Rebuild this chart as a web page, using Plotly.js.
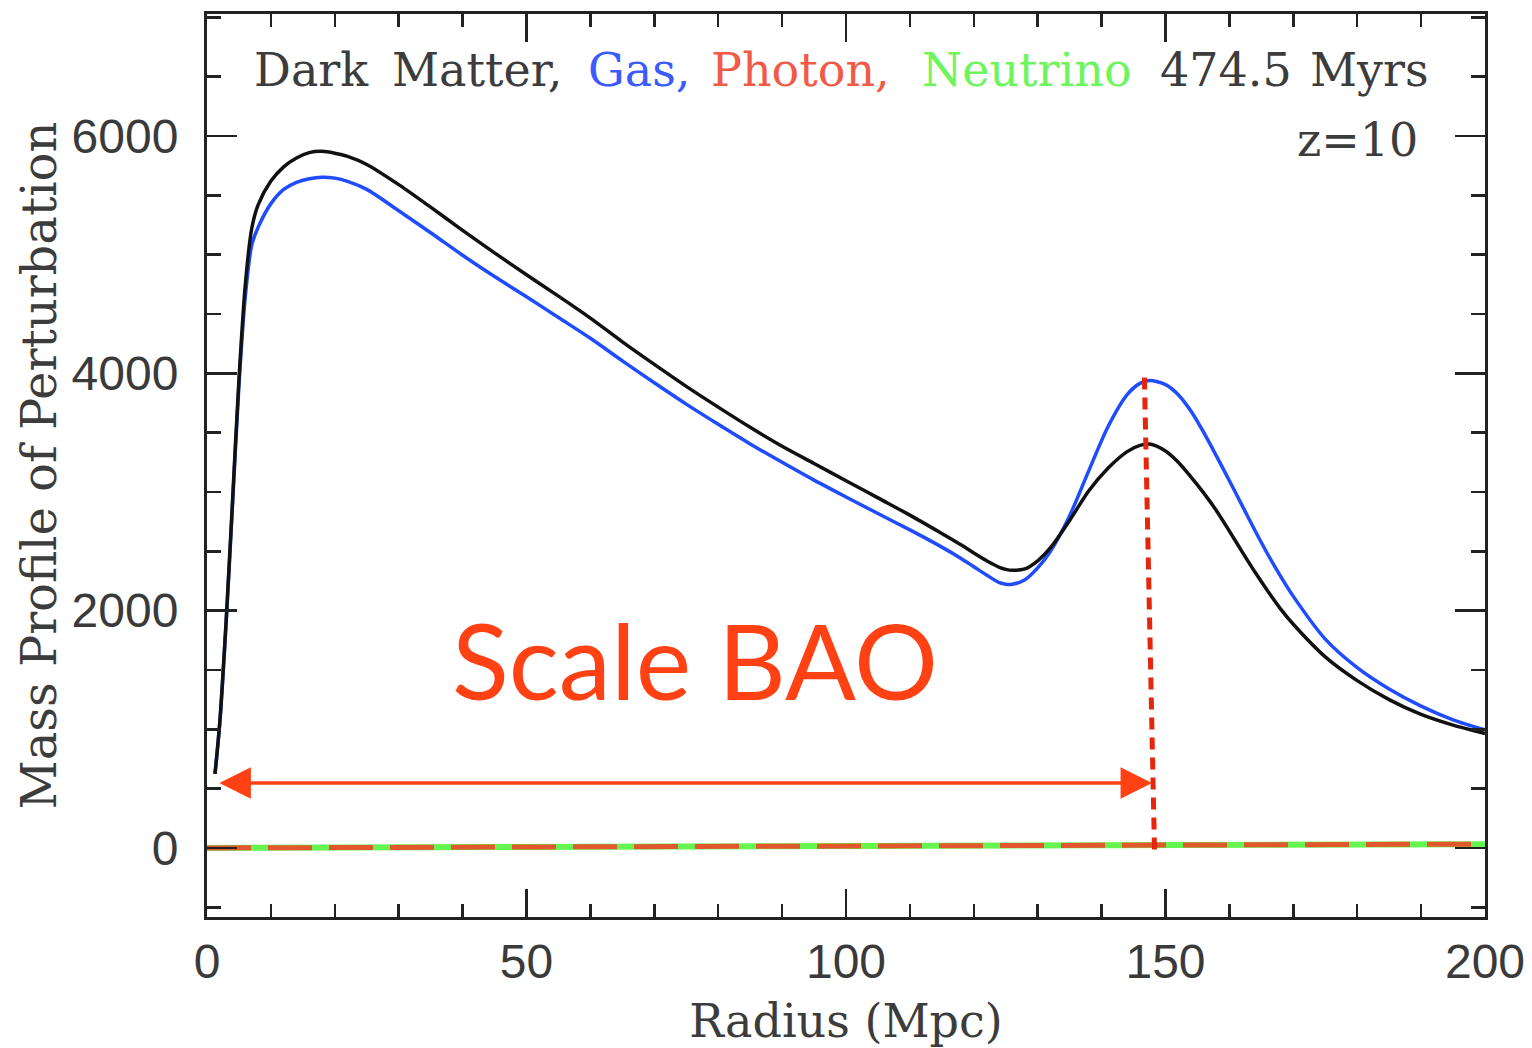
<!DOCTYPE html>
<html>
<head>
<meta charset="utf-8">
<script src="https://cdn.plot.ly/plotly-3.0.1.min.js"></script>
<style>html,body{margin:0;padding:0;background:#fff;}#chart{width:1532px;height:1048px;}</style>
</head>
<body>
<div id="chart"></div>
<script>
// Radius (Mpc) sample points
const radius = [1.25, 2, 3, 4, 5, 6, 7, 8, 10, 12, 14, 16, 18, 20, 22, 25, 30, 35, 40, 45, 50, 55, 60, 65, 70, 75, 80, 85, 90, 95, 100, 105, 110, 115, 118, 120, 122, 124, 125, 126, 128, 130, 132, 135, 138, 141, 144, 146, 147.5, 150, 152, 154, 156, 158, 160, 162, 164, 166, 168, 170, 175, 180, 185, 190, 195, 200];
// Dark matter mass profile
const darkMatter = [624, 1060, 1920, 2930, 3950, 4750, 5220, 5420, 5620, 5740, 5815, 5860, 5871, 5855, 5828, 5760, 5590, 5400, 5205, 5015, 4830, 4650, 4465, 4265, 4075, 3890, 3715, 3545, 3385, 3240, 3095, 2950, 2805, 2650, 2555, 2485, 2420, 2365, 2348, 2340, 2352, 2420, 2530, 2760, 3010, 3200, 3340, 3392, 3404, 3345, 3250, 3125, 2990, 2840, 2670, 2495, 2325, 2165, 2015, 1885, 1610, 1410, 1250, 1125, 1035, 965];
// Gas mass profile
const gas = [624, 1050, 1900, 2900, 3900, 4650, 5080, 5230, 5430, 5550, 5610, 5640, 5653, 5645, 5618, 5550, 5370, 5185, 4995, 4815, 4645, 4470, 4295, 4105, 3920, 3740, 3570, 3405, 3250, 3100, 2958, 2818, 2680, 2535, 2440, 2370, 2300, 2235, 2222, 2222, 2260, 2360, 2500, 2800, 3180, 3550, 3820, 3915, 3940, 3905, 3820, 3680, 3500, 3300, 3095, 2885, 2675, 2475, 2290, 2120, 1760, 1520, 1340, 1195, 1080, 995];
// Photon and neutrino profiles (near zero)
const radiusLow = [0, 25, 50, 75, 100, 125, 150, 175, 200];
const photon = [0, 3, 7, 10, 14, 18, 22, 27, 32];
const neutrino = [0, 3, 7, 10, 14, 18, 22, 27, 32];
// BAO scale marker
const baoLineX = [146.7, 148.3];
const baoLineY = [3964, -67];
const baoArrowX = [1.7, 147.9];
const baoArrowY = 548;

const red = '#ff4113';
const traces = [
  {x: radiusLow, y: neutrino, mode: 'lines', line: {color: '#66f550', width: 6}, hoverinfo: 'skip'},
  {x: radiusLow, y: photon, mode: 'lines', line: {color: '#e3572c', width: 5, dash: '44px,17px'}, hoverinfo: 'skip'},
  {x: radius, y: gas, mode: 'lines', line: {color: '#1f4cff', width: 3.5, shape: 'spline', smoothing: 0.8}, hoverinfo: 'skip'},
  {x: radius, y: darkMatter, mode: 'lines', line: {color: '#111111', width: 3.5, shape: 'spline', smoothing: 0.8}, hoverinfo: 'skip'},
  {x: baoLineX, y: baoLineY, mode: 'lines', line: {color: '#e3260c', width: 5, dash: '12px,8px'}, hoverinfo: 'skip'}
];

const serif = 'DejaVu Serif';
const txtGrey = '#3c3c3c';
const annFont = (c) => ({family: serif, size: 46, color: c});
const topY = 0.938;
const words = [
  {t: 'Dark', x: 0.0352, c: txtGrey},
  {t: 'Matter,', x: 0.1432, c: txtGrey},
  {t: 'Gas,', x: 0.2966, c: '#3a5cff'},
  {t: 'Photon,', x: 0.3928, c: '#f25a48'},
  {t: 'Neutrino', x: 0.5579, c: '#6cf55c'},
  {t: '474.5', x: 0.7441, c: txtGrey},
  {t: 'Myrs', x: 0.8615, c: txtGrey}
];
const annotations = words.map(w => ({x: w.x, y: topY, xref: 'paper', yref: 'paper', xanchor: 'left', yanchor: 'middle', showarrow: false, text: w.t, font: annFont(w.c)}));
annotations.push(
  {x: 0.9491, y: 0.861, xref: 'paper', yref: 'paper', xanchor: 'right', yanchor: 'middle', showarrow: false, text: 'z=10', font: annFont(txtGrey)},
  {x: 76.4, y: 1590, xref: 'x', yref: 'y', xanchor: 'center', yanchor: 'middle', showarrow: false, text: 'Scale BAO', font: {family: 'Lato', size: 105, color: red}},
  {x: baoArrowX[1], y: baoArrowY, ax: baoArrowX[0], ay: baoArrowY, xref: 'x', yref: 'y', axref: 'x', ayref: 'y', text: '', showarrow: true, arrowhead: 2, startarrowhead: 2, arrowside: 'end+start', arrowsize: 1.8, startarrowsize: 1.8, arrowwidth: 3.5, arrowcolor: red}
);

const tickFont = {family: 'Liberation Sans', size: 48, color: '#3a3a3a'};
const layout = {
  width: 1532, height: 1048,
  margin: {l: 207, r: 47, t: 14, b: 131, pad: 0},
  paper_bgcolor: '#ffffff', plot_bgcolor: '#ffffff',
  showlegend: false,
  xaxis: {
    range: [0, 200], tick0: 0, dtick: 50, ticks: 'inside', ticklen: 28, tickwidth: 2.5, tickcolor: '#222',
    minor: {dtick: 10, ticks: 'inside', ticklen: 13, tickwidth: 2.5, tickcolor: '#222', showgrid: false},
    showline: true, linewidth: 3, linecolor: '#222', mirror: 'ticks', showgrid: false, zeroline: false,
    tickfont: tickFont, ticklabelstandoff: 0,
    title: {text: 'Radius (Mpc)', font: {family: serif, size: 46, color: txtGrey}, standoff: 19}
  },
  yaxis: {
    range: [-582, 7028], tick0: 0, dtick: 2000, ticks: 'inside', ticklen: 30, tickwidth: 2.5, tickcolor: '#222',
    minor: {dtick: 500, ticks: 'inside', ticklen: 14, tickwidth: 2.5, tickcolor: '#222', showgrid: false},
    showline: true, linewidth: 3, linecolor: '#222', mirror: 'ticks', showgrid: false, zeroline: false,
    tickfont: tickFont, ticklabelstandoff: 16,
    title: {text: 'Mass Profile of Perturbation', font: {family: serif, size: 48, color: txtGrey}, standoff: 0}
  },
  annotations: annotations
};

Plotly.newPlot('chart', traces, layout, {staticPlot: true, displayModeBar: false});
</script>
</body>
</html>
